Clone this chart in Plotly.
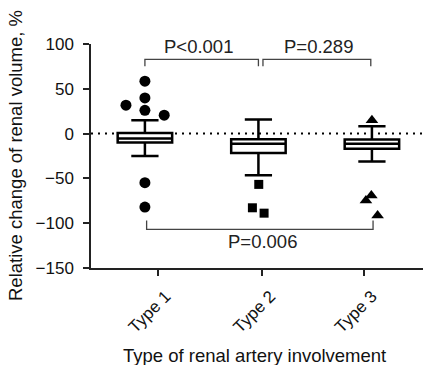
import plotly.graph_objects as go

# ---- data ----
categories = ["Type 1", "Type 2", "Type 3"]
q1 = [-10, -21.7, -16.8]
median = [-5.6, -11.2, -11.2]
q3 = [0.7, -6.4, -6.7]
lower_whisker = [-25, -46.6, -31]
upper_whisker = [14.9, 15.7, 8.2]

out_type1 = [58.5, 39.8, 31.7, 26, 20.5, -54.8, -82]
out_type2 = [-56.7, -82.8, -88.8]
out_type3 = [14.9, -69, -74.6, -91.4]

comparisons = [(0, 1, "P<0.001"), (1, 2, "P=0.289"), (0, 2, "P=0.006")]
y_ticks = [100, 50, 0, -50, -100, -150]

# ---- layout helpers (positions / styles) ----
jit1 = [0, 0, -0.167, 0, 0.17, 0, 0]
jit2 = [0.003, -0.053, 0.05]
jit3 = [0, -0.005, -0.053, 0.05]
tick_pos = [0.112, 1.035, 1.929]
symbols = ["circle", "square", "triangle-up"]
FONT = "Liberation Sans, Arial, Helvetica, sans-serif"

fig = go.Figure()
for i, cat in enumerate(categories):
    fig.add_trace(go.Box(
        x=[i], q1=[q1[i]], median=[median[i]], q3=[q3[i]],
        lowerfence=[lower_whisker[i]], upperfence=[upper_whisker[i]],
        width=0.48, whiskerwidth=0.5, boxpoints=False,
        fillcolor="white", line=dict(color="black", width=2.5),
        name=cat, showlegend=False, hoverinfo="skip"))

for i, (vals, jit) in enumerate([(out_type1, jit1), (out_type2, jit2), (out_type3, jit3)]):
    fig.add_trace(go.Scatter(
        x=[i + j for j in jit], y=vals, mode="markers",
        marker=dict(symbol=symbols[i], size=11 if i != 1 else 9, color="black"),
        showlegend=False, hoverinfo="skip"))

xr = [-0.475, 2.45]
shapes = [dict(type="line", x0=xr[0], x1=xr[1], y0=0, y1=0, xref="x", yref="y",
               line=dict(color="black", width=2, dash="2px,5px"), layer="below")]
annotations = []
gray = "#444"
top_specs = {(0, 1): (0.0, 1.0, 0.475), (1, 2): (1.04, 1.99, 1.53)}
for a, b, label in comparisons:
    if (a, b) in top_specs:
        xa, xb, xt = top_specs[(a, b)]
        shapes.append(dict(type="path", xref="x", yref="y",
                           path=f"M{xa},75.3 L{xa},82.8 L{xb},82.8 L{xb},75.3",
                           line=dict(color=gray, width=1.3)))
        annotations.append(dict(x=xt, y=97, xref="x", yref="y", text=label, showarrow=False,
                                font=dict(size=18.5, color="#222", family=FONT)))
    else:
        xa, xb = a + 0.015, b + 0.01
        shapes.append(dict(type="path", xref="x", yref="y",
                           path=f"M{xa},-97 L{xa},-107 L{xb},-107 L{xb},-97",
                           line=dict(color=gray, width=1.3)))
        annotations.append(dict(x=1.04, y=-120, xref="x", yref="y", text=label, showarrow=False,
                                font=dict(size=18.5, color="#222", family=FONT)))

annotations.append(dict(x=(254 - 91) / 332, y=-87 / 224, xref="paper", yref="paper",
                        text="Type of renal artery involvement", showarrow=False,
                        xanchor="center", yanchor="middle",
                        font=dict(size=18.5, color="#111", family=FONT)))
annotations.append(dict(x=(15 - 91) / 332, y=0.5, xref="paper", yref="paper",
                        text="Relative change of renal volume, %", showarrow=False,
                        textangle=-90, xanchor="center", yanchor="middle",
                        font=dict(size=18.5, color="#111", family=FONT)))

fig.update_layout(
    width=423, height=365,
    margin=dict(l=91, r=0, t=44, b=97),
    paper_bgcolor="white", plot_bgcolor="white",
    shapes=shapes, annotations=annotations,
    font=dict(family=FONT, color="#111"),
    xaxis=dict(range=xr, tickmode="array", tickvals=tick_pos, ticktext=categories,
               tickangle=-45, ticks="outside", ticklen=6, tickwidth=1.5, tickcolor="#222",
               showline=True, linecolor="#222", linewidth=1.5, showgrid=False, zeroline=False,
               automargin=False, ticklabelshift=8, ticklabelstandoff=4,
               tickfont=dict(size=17, family=FONT, color="#111")),
    yaxis=dict(range=[-150, 100], tickmode="array", tickvals=y_ticks,
               ticktext=[str(v).replace("-", "\u2212") for v in y_ticks],
               ticks="outside", ticklen=6, tickwidth=1.5, tickcolor="#222",
               showline=True, linecolor="#222", linewidth=1.5, showgrid=False, zeroline=False,
               automargin=False, ticklabelstandoff=6,
               tickfont=dict(size=17, family=FONT, color="#111")),
)
fig.write_html("out.html", config={"displayModeBar": False},
               post_script="document.body.style.margin='0';document.body.style.padding='0';")
